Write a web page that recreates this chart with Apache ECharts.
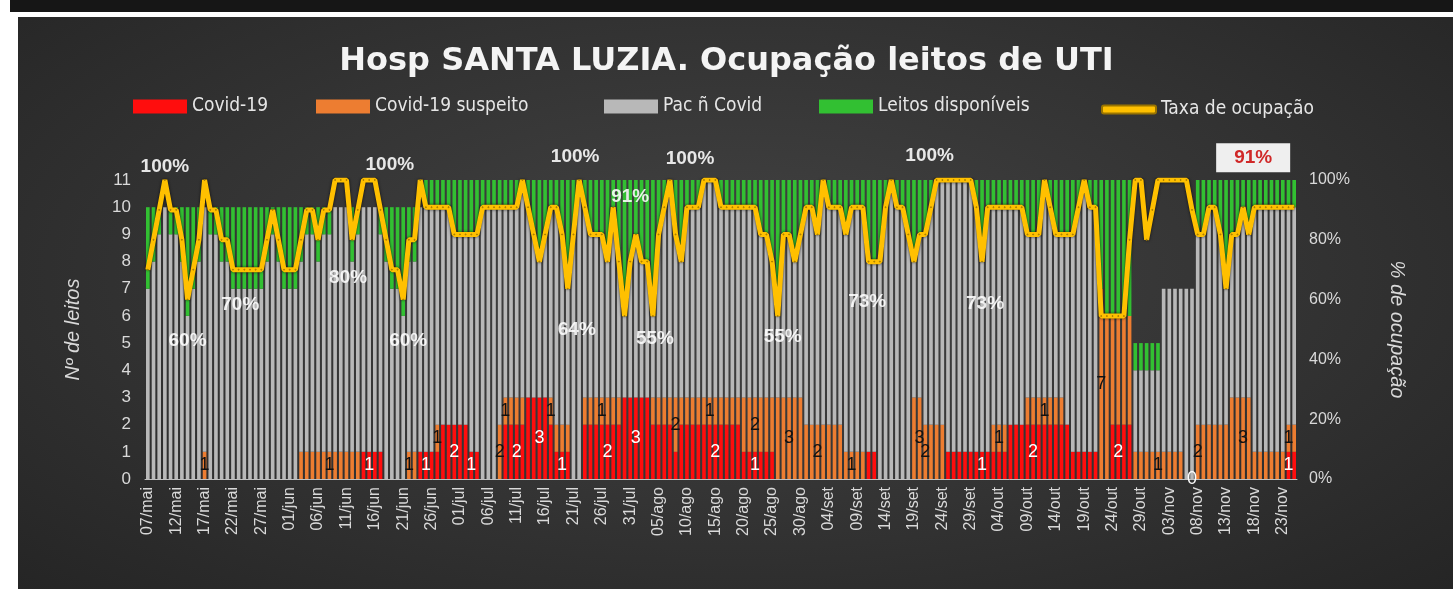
<!DOCTYPE html>
<html>
<head>
<meta charset="utf-8">
<script src="https://cdn.jsdelivr.net/npm/echarts@6/dist/echarts.min.js"></script>
<style>
  html, body { margin: 0; padding: 0; background: #fff; }
  #faixa { position: absolute; left: 10px; top: 0; width: 1443px; height: 12px; background: #161616; }
  #fundo { position: absolute; left: 18px; top: 17px; width: 1435px; height: 572px;
    background: radial-gradient(ellipse at 50% 45%, #434343 0%, #333 55%, #252525 100%); }
  #chart { position: absolute; left: 0; top: 0; width: 1453px; height: 589px; }
</style>
</head>
<body>
<div id="faixa"></div>
<div id="fundo"></div>
<div id="chart"></div>
<script>
// dias de 07/mai a 25/nov
const meses = [['mai', 7, 31], ['jun', 1, 30], ['jul', 1, 31], ['ago', 1, 31], ['set', 1, 30], ['out', 1, 31], ['nov', 1, 25]]
const dias = []
meses.forEach(([m, ini, fim]) => {
  for (let d = ini; d <= fim; d++) dias.push(String(d).padStart(2, '0') + '/' + m)
})

const covid = [
  0, 0, 0, 0, 0, 0, 0, 0, 0, 0,
  0, 0, 0, 0, 0, 0, 0, 0, 0, 0,
  0, 0, 0, 0, 0, 0, 0, 0, 0, 0,
  0, 0, 0, 0, 0, 0, 0, 0, 1, 1,
  1, 1, 0, 0, 0, 0, 0, 0, 1, 1,
  1, 1, 2, 2, 2, 2, 2, 1, 1, 0,
  0, 0, 0, 2, 2, 2, 2, 3, 3, 3,
  3, 2, 1, 1, 1, 0, 0, 2, 2, 2,
  2, 2, 2, 2, 3, 3, 3, 3, 3, 2,
  2, 2, 2, 1, 2, 2, 2, 2, 2, 2,
  2, 2, 2, 2, 2, 1, 1, 1, 1, 1,
  1, 0, 0, 0, 0, 0, 0, 0, 0, 0,
  0, 0, 0, 0, 0, 0, 0, 1, 1, 0,
  0, 0, 0, 0, 0, 0, 0, 0, 0, 0,
  0, 1, 1, 1, 1, 1, 1, 1, 1, 1,
  1, 1, 2, 2, 2, 2, 2, 2, 2, 2,
  2, 2, 2, 1, 1, 1, 1, 1, 0, 0,
  2, 2, 2, 2, 0, 0, 0, 0, 0, 0,
  0, 0, 0, 0, 0, 0, 0, 0, 0, 0,
  0, 0, 0, 0, 0, 0, 0, 0, 0, 0,
  0, 1, 1
]

const suspeito = [
  0, 0, 0, 0, 0, 0, 0, 0, 0, 0,
  1, 0, 0, 0, 0, 0, 0, 0, 0, 0,
  0, 0, 0, 0, 0, 0, 0, 1, 1, 1,
  1, 1, 1, 1, 1, 1, 1, 1, 0, 0,
  0, 0, 0, 0, 0, 0, 1, 1, 0, 0,
  0, 1, 0, 0, 0, 0, 0, 0, 0, 0,
  0, 0, 2, 1, 1, 1, 1, 0, 0, 0,
  0, 1, 1, 1, 1, 0, 0, 1, 1, 1,
  1, 1, 1, 1, 0, 0, 0, 0, 0, 1,
  1, 1, 1, 2, 1, 1, 1, 1, 1, 1,
  1, 1, 1, 1, 1, 2, 2, 2, 2, 2,
  2, 3, 3, 3, 3, 3, 2, 2, 2, 2,
  2, 2, 2, 1, 1, 1, 1, 0, 0, 0,
  0, 0, 0, 0, 0, 3, 3, 2, 2, 2,
  2, 0, 0, 0, 0, 0, 0, 0, 0, 1,
  1, 1, 0, 0, 0, 1, 1, 1, 1, 1,
  1, 1, 0, 0, 0, 0, 0, 0, 7, 6,
  4, 4, 4, 4, 1, 1, 1, 1, 1, 1,
  1, 1, 1, 0, 0, 2, 2, 2, 2, 2,
  2, 3, 3, 3, 3, 1, 1, 1, 1, 1,
  1, 1, 1
]

const pacNaoCovid = [
  7, 8, 9, 10, 9, 9, 8, 6, 7, 8,
  9, 9, 9, 8, 8, 7, 7, 7, 7, 7,
  7, 8, 9, 8, 7, 7, 7, 7, 8, 8,
  7, 8, 8, 9, 9, 9, 7, 8, 9, 9,
  9, 8, 8, 7, 7, 6, 7, 7, 9, 9,
  9, 8, 8, 8, 7, 7, 7, 8, 8, 10,
  10, 10, 8, 7, 7, 7, 8, 7, 6, 5,
  6, 7, 8, 7, 5, 9, 11, 7, 6, 6,
  6, 5, 7, 5, 3, 5, 6, 5, 5, 3,
  6, 7, 8, 6, 5, 7, 7, 7, 8, 8,
  8, 7, 7, 7, 7, 7, 7, 7, 6, 6,
  5, 3, 6, 6, 5, 6, 8, 8, 7, 9,
  8, 8, 8, 8, 9, 9, 9, 7, 7, 8,
  10, 11, 10, 10, 9, 5, 6, 7, 8, 9,
  9, 10, 10, 10, 10, 10, 9, 7, 9, 8,
  8, 8, 8, 8, 8, 6, 6, 6, 8, 7,
  6, 6, 7, 8, 9, 10, 9, 9, 0, 0,
  0, 0, 0, 0, 3, 3, 3, 3, 3, 6,
  6, 6, 6, 7, 7, 7, 7, 8, 8, 7,
  5, 6, 6, 7, 6, 9, 9, 9, 9, 9,
  9, 8, 8
]

const disponiveis = [
  3, 2, 1, 0, 1, 1, 2, 4, 3, 2,
  0, 1, 1, 2, 2, 3, 3, 3, 3, 3,
  3, 2, 1, 2, 3, 3, 3, 2, 1, 1,
  2, 1, 1, 0, 0, 0, 2, 1, 0, 0,
  0, 1, 2, 3, 3, 4, 2, 2, 0, 1,
  1, 1, 1, 1, 2, 2, 2, 2, 2, 1,
  1, 1, 1, 1, 1, 1, 0, 1, 2, 3,
  2, 1, 1, 2, 4, 2, 0, 1, 2, 2,
  2, 3, 1, 3, 5, 3, 2, 3, 3, 5,
  2, 1, 0, 2, 3, 1, 1, 1, 0, 0,
  0, 1, 1, 1, 1, 1, 1, 1, 2, 2,
  3, 5, 2, 2, 3, 2, 1, 1, 2, 0,
  1, 1, 1, 2, 1, 1, 1, 3, 3, 3,
  1, 0, 1, 1, 2, 3, 2, 2, 1, 0,
  0, 0, 0, 0, 0, 0, 1, 3, 1, 1,
  1, 1, 1, 1, 1, 2, 2, 2, 0, 1,
  2, 2, 2, 2, 1, 0, 1, 1, 4, 5,
  5, 5, 5, 5, 1, 1, 1, 1, 1, 0,
  0, 0, 0, 0, 0, 2, 2, 1, 1, 2,
  4, 2, 2, 1, 2, 1, 1, 1, 1, 1,
  1, 1, 1
]

const taxa = [
  70, 80, 90, 100, 90, 90, 80, 60, 70, 80,
  100, 90, 90, 80, 80, 70, 70, 70, 70, 70,
  70, 80, 90, 80, 70, 70, 70, 80, 90, 90,
  80, 90, 90, 100, 100, 100, 80, 90, 100, 100,
  100, 90, 80, 70, 70, 60, 80, 80, 100, 90.9,
  90.9, 90.9, 90.9, 90.9, 81.8, 81.8, 81.8, 81.8, 81.8, 90.9,
  90.9, 90.9, 90.9, 90.9, 90.9, 90.9, 100, 90.9, 81.8, 72.7,
  81.8, 90.9, 90.9, 81.8, 63.6, 81.8, 100, 90.9, 81.8, 81.8,
  81.8, 72.7, 90.9, 72.7, 54.5, 72.7, 81.8, 72.7, 72.7, 54.5,
  81.8, 90.9, 100, 81.8, 72.7, 90.9, 90.9, 90.9, 100, 100,
  100, 90.9, 90.9, 90.9, 90.9, 90.9, 90.9, 90.9, 81.8, 81.8,
  72.7, 54.5, 81.8, 81.8, 72.7, 81.8, 90.9, 90.9, 81.8, 100,
  90.9, 90.9, 90.9, 81.8, 90.9, 90.9, 90.9, 72.7, 72.7, 72.7,
  90.9, 100, 90.9, 90.9, 81.8, 72.7, 81.8, 81.8, 90.9, 100,
  100, 100, 100, 100, 100, 100, 90.9, 72.7, 90.9, 90.9,
  90.9, 90.9, 90.9, 90.9, 90.9, 81.8, 81.8, 81.8, 100, 90.9,
  81.8, 81.8, 81.8, 81.8, 90.9, 100, 90.9, 90.9, 54.5, 54.5,
  54.5, 54.5, 54.5, 80, 100, 100, 80, 90, 100, 100,
  100, 100, 100, 100, 90, 81.8, 81.8, 90.9, 90.9, 81.8,
  63.6, 81.8, 81.8, 90.9, 81.8, 90.9, 90.9, 90.9, 90.9, 90.9,
  90.9, 90.9, 90.9
]

// dias com rotulo de valor nas barras
const rotulosCovid = [39, 49, 54, 57, 65, 69, 73, 81, 86, 100, 107, 147, 156, 171, 184, 201]
const rotulosSuspeito = [10, 32, 46, 51, 62, 63, 71, 80, 93, 99, 107, 113, 118, 124, 136, 137, 150, 158, 168, 178, 185, 193, 201]
// rotulos da taxa: [dia, posicao, dx, dy]
const rotulosTaxa = [
  [3, 'top', 0, 2], [7, 'bottom', 0, 26], [17, 'bottom', -4, 20], [36, 'bottom', -4, 22],
  [45, 'bottom', 5, 26], [40, 'top', 15, 0], [74, 'bottom', 9, 25], [76, 'top', -4, -8],
  [82, 'top', 17, 5], [89, 'bottom', 2, 7], [98, 'top', -14, -6], [111, 'bottom', 5, 5],
  [128, 'bottom', -7, 25], [139, 'top', -7, -9], [147, 'bottom', 3, 27]
]
const ultimo = taxa.length - 1

const txt = '#d9d9d9'
const fonte = 'Liberation Sans, Arial, sans-serif'
const fonteLegenda = 'DejaVu Sans Condensed, DejaVu Sans, sans-serif'

function comRotulo(valores, dias, cor) {
  return valores.map((v, i) => dias.includes(i)
    ? { value: v, label: { show: true, color: cor } }
    : v)
}

const taxaDados = taxa.map((v, i) => {
  const r = rotulosTaxa.find(x => x[0] === i)
  if (r) return { value: v, label: { show: true, position: r[1], offset: [r[2], r[3]] } }
  if (i === ultimo) {
    return {
      value: v,
      label: {
        show: true, position: 'top', offset: [-41, -29],
        color: '#d02828', backgroundColor: '#efefef', padding: [5, 18]
      }
    }
  }
  return v
})

const chart = echarts.init(document.getElementById('chart'))

const legendas = [
  ['Covid-19', 128, 'rect', 14], ['Covid-19 suspeito', 311, 'rect', 14], ['Pac ñ Covid', 599, 'rect', 14],
  ['Leitos disponíveis', 814, 'rect', 14], ['Taxa de ocupação', 1096, 'roundRect', 8]
]

chart.setOption({
  backgroundColor: 'transparent',
  textStyle: { fontFamily: fonte },
  title: {
    text: 'Hosp SANTA LUZIA. Ocupação leitos de UTI',
    left: 'center',
    top: 41,
    textStyle: { color: '#f4f4f4', fontSize: 32, fontWeight: 'bold', fontFamily: 'DejaVu Sans, sans-serif' }
  },
  legend: legendas.map(([nome, x, icone, alt]) => ({
    data: [{ name: nome, icon: icone }],
    left: x,
    top: 101 - alt / 2 - 2,
    itemWidth: 54,
    itemHeight: alt,
    itemGap: 8,
    textStyle: { color: '#e6e6e6', fontSize: 19, fontFamily: fonteLegenda }
  })),
  grid: { left: 145, right: 156, top: 180, bottom: 110 },
  xAxis: {
    type: 'category',
    data: dias,
    axisLine: { lineStyle: { color: '#bfbfbf' } },
    axisTick: { interval: 4, alignWithLabel: true, length: 5, lineStyle: { color: '#bfbfbf' } },
    axisLabel: { interval: 4, rotate: 90, color: txt, fontSize: 16, margin: 8 }
  },
  yAxis: [{
    type: 'value',
    min: 0,
    max: 11,
    interval: 1,
    name: 'Nº de leitos',
    nameLocation: 'middle',
    nameGap: 62,
    nameRotate: 90,
    nameTextStyle: { color: txt, fontSize: 20, fontStyle: 'italic' },
    splitLine: { show: false },
    axisLabel: { color: txt, fontSize: 17, margin: 14 }
  }, {
    type: 'value',
    min: 0,
    max: 100,
    interval: 20,
    name: '% de ocupação',
    nameLocation: 'middle',
    nameGap: 90,
    nameRotate: -90,
    nameTextStyle: { color: txt, fontSize: 20, fontStyle: 'italic' },
    splitLine: { show: false },
    axisLabel: { color: txt, fontSize: 16, margin: 12, formatter: '{value}%' }
  }],
  series: [{
    name: 'Covid-19',
    type: 'bar',
    stack: 'leitos',
    barCategoryGap: '36%',
    itemStyle: { color: '#ff0d0d' },
    label: { show: false, position: 'inside', fontSize: 18, fontFamily: fonte },
    data: comRotulo(covid, rotulosCovid, '#ffffff')
  }, {
    name: 'Covid-19 suspeito',
    type: 'bar',
    stack: 'leitos',
    itemStyle: { color: '#ed7d31' },
    label: { show: false, position: 'inside', fontSize: 18, fontFamily: fonte },
    data: comRotulo(suspeito, rotulosSuspeito, '#111111')
  }, {
    name: 'Pac ñ Covid',
    type: 'bar',
    stack: 'leitos',
    itemStyle: { color: '#b8b8b8' },
    data: pacNaoCovid
  }, {
    name: 'Leitos disponíveis',
    type: 'bar',
    stack: 'leitos',
    itemStyle: { color: '#32c032' },
    data: disponiveis
  }, {
    name: 'Taxa de ocupação',
    type: 'line',
    yAxisIndex: 1,
    z: 5,
    symbol: 'circle',
    symbolSize: 1,
    itemStyle: { color: '#ffc000', borderColor: '#9a7400', borderWidth: 1 },
    lineStyle: { color: '#ffc000', width: 5, shadowColor: 'rgba(0,0,0,0.75)', shadowBlur: 3 },
    label: {
      show: false,
      color: 'rgba(255,255,255,0.88)',
      fontSize: 19,
      fontWeight: 'bold',
      fontFamily: fonte,
      formatter: p => Math.round(p.value) + '%'
    },
    data: taxaDados
  }]
})
</script>
</body>
</html>
